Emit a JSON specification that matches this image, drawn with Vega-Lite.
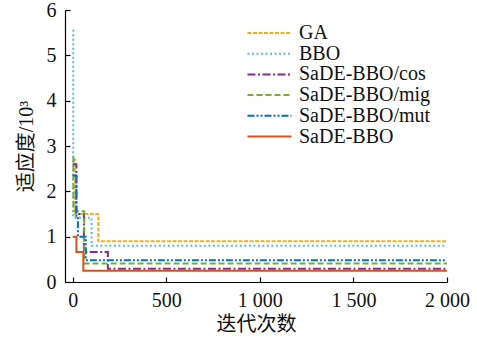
{
  "$schema": "https://vega.github.io/schema/vega-lite/v6.json",
  "width": 382,
  "height": 272,
  "autosize": {"type": "none"},
  "padding": {"left": 65, "top": 10, "right": 30, "bottom": 55},
  "background": "white",
  "config": {
    "view": {"stroke": null},
    "font": "Liberation Serif",
    "axis": {
      "domainColor": "#000000",
      "tickColor": "#000000",
      "labelColor": "#111111",
      "titleColor": "#111111",
      "labelFont": "Liberation Serif",
      "titleFont": "Liberation Serif, Noto Sans CJK SC",
      "labelFontSize": 20,
      "titleFontSize": 20,
      "titleFontWeight": "normal",
      "grid": false,
      "tickSize": -5,
      "domainWidth": 1.2,
      "tickWidth": 1.2
    },
    "legend": {
      "labelFont": "Liberation Serif"
    }
  },
  "data": {
    "values": [
      {"method": "GA", "iter": 0, "fitness": 2.7},
      {"method": "GA", "iter": 12, "fitness": 1.5},
      {"method": "GA", "iter": 137, "fitness": 0.9},
      {"method": "GA", "iter": 2000, "fitness": 0.9},
      {"method": "BBO", "iter": 0, "fitness": 5.55},
      {"method": "BBO", "iter": 3, "fitness": 1.42},
      {"method": "BBO", "iter": 101, "fitness": 0.8},
      {"method": "BBO", "iter": 2000, "fitness": 0.8},
      {"method": "SaDE-BBO/cos", "iter": 0, "fitness": 2.6},
      {"method": "SaDE-BBO/cos", "iter": 20, "fitness": 1.5},
      {"method": "SaDE-BBO/cos", "iter": 60, "fitness": 0.66},
      {"method": "SaDE-BBO/cos", "iter": 188, "fitness": 0.29},
      {"method": "SaDE-BBO/cos", "iter": 2000, "fitness": 0.29},
      {"method": "SaDE-BBO/mig", "iter": 0, "fitness": 2.75},
      {"method": "SaDE-BBO/mig", "iter": 4, "fitness": 1.56},
      {"method": "SaDE-BBO/mig", "iter": 62, "fitness": 0.41},
      {"method": "SaDE-BBO/mig", "iter": 2000, "fitness": 0.41},
      {"method": "SaDE-BBO/mut", "iter": 0, "fitness": 2.35},
      {"method": "SaDE-BBO/mut", "iter": 20, "fitness": 1.45},
      {"method": "SaDE-BBO/mut", "iter": 28, "fitness": 1.0},
      {"method": "SaDE-BBO/mut", "iter": 70, "fitness": 0.48},
      {"method": "SaDE-BBO/mut", "iter": 2000, "fitness": 0.48},
      {"method": "SaDE-BBO", "iter": 0, "fitness": 1.0},
      {"method": "SaDE-BBO", "iter": 20, "fitness": 0.66},
      {"method": "SaDE-BBO", "iter": 57, "fitness": 0.25},
      {"method": "SaDE-BBO", "iter": 2000, "fitness": 0.25}
    ]
  },
  "mark": {"type": "line", "interpolate": "step-after", "strokeWidth": 2},
  "encoding": {
    "x": {
      "field": "iter",
      "type": "quantitative",
      "scale": {"domain": [-41, 2000], "nice": false, "zero": false},
      "axis": {
        "values": [0, 500, 1000, 1500, 2000],
        "labelExpr": "datum.value >= 1000 ? replace(format(datum.value, ','), ',', ' ') : format(datum.value, 'd')",
        "labelPadding": 13,
        "labelFlush": false,
        "title": "迭代次数",
        "titlePadding": 4
      }
    },
    "y": {
      "field": "fitness",
      "type": "quantitative",
      "scale": {"domain": [0, 6], "nice": false},
      "axis": {
        "values": [0, 1, 2, 3, 4, 5, 6],
        "labelPadding": 14,
        "title": "适应度/10³",
        "titlePadding": 10
      }
    },
    "color": {
      "field": "method",
      "type": "nominal",
      "scale": {
        "domain": ["GA", "BBO", "SaDE-BBO/cos", "SaDE-BBO/mig", "SaDE-BBO/mut", "SaDE-BBO"],
        "range": ["#EDB120", "#4DBEEE", "#7E2F8E", "#77AC30", "#0072BD", "#D95319"]
      },
      "legend": {
        "title": null,
        "orient": "none",
        "legendX": 178,
        "legendY": 13,
        "padding": 0,
        "symbolType": "M-1,0H7",
        "symbolSize": 121,
        "symbolStrokeWidth": 2,
        "rowPadding": 0.7,
        "labelOffset": 36,
        "labelFont": "Liberation Serif",
        "labelFontSize": 20,
        "labelColor": "#111111",
        "labelLimit": 300
      }
    },
    "strokeDash": {
      "field": "method",
      "type": "nominal",
      "scale": {
        "domain": ["GA", "BBO", "SaDE-BBO/cos", "SaDE-BBO/mig", "SaDE-BBO/mut", "SaDE-BBO"],
        "range": [[4, 1.5], [2, 2.5], [8, 2.5, 2, 2.5], [6, 3], [7, 2, 2, 2, 2, 2], [1, 0]]
      },
      "legend": {
        "title": null,
        "orient": "none",
        "legendX": 178,
        "legendY": 13,
        "padding": 0,
        "symbolType": "M-1,0H7",
        "symbolSize": 121,
        "symbolStrokeWidth": 2,
        "rowPadding": 0.7,
        "labelOffset": 36,
        "labelFont": "Liberation Serif",
        "labelFontSize": 20,
        "labelColor": "#111111",
        "labelLimit": 300
      }
    }
  }
}
